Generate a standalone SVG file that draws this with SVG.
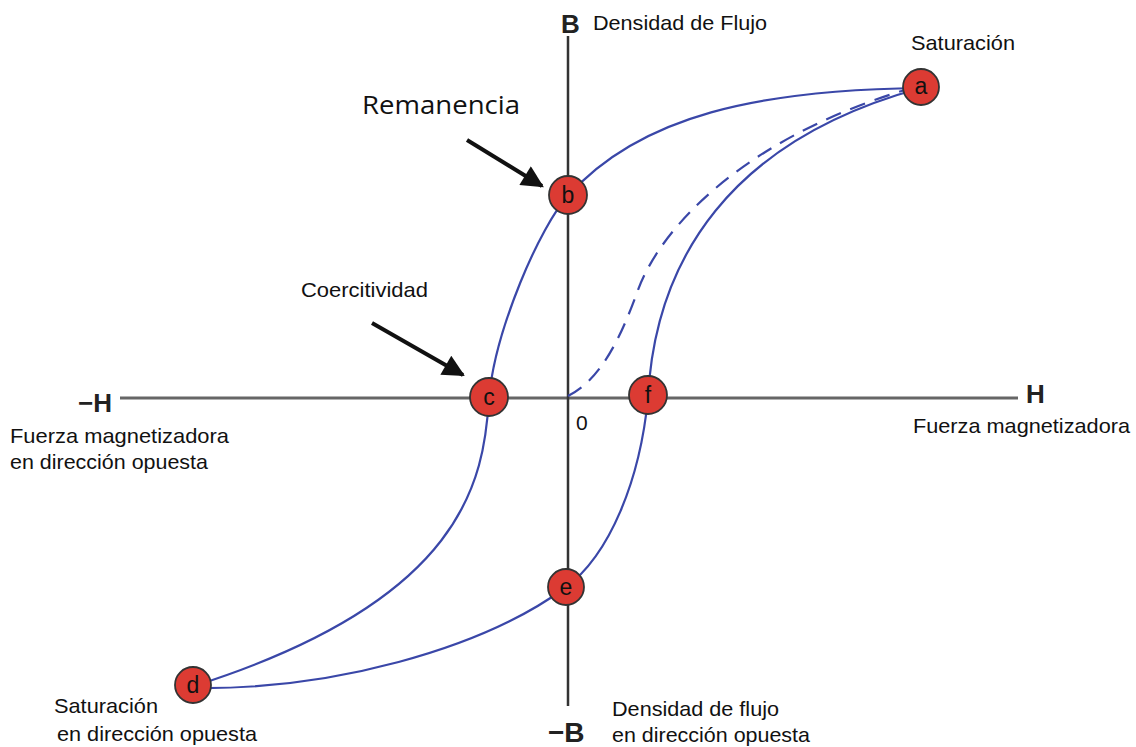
<svg xmlns="http://www.w3.org/2000/svg" width="1136" height="747" viewBox="0 0 1136 747">
<style>
.lbl{font-family:"Liberation Sans",Arial,sans-serif;font-size:21px;fill:#111}
.ax{font-family:"Liberation Sans",Arial,sans-serif;font-weight:bold;fill:#222}
.curve{fill:none;stroke:#3a47a8;stroke-width:2.2}
.node circle{fill:#dc3b33;stroke:#333;stroke-width:1.8}
.node text{font-family:"Liberation Sans",Arial,sans-serif;font-size:23px;fill:#111;text-anchor:middle}
</style>
<defs>
<marker id="ah" viewBox="0 0 10 10" refX="9" refY="5" markerWidth="7" markerHeight="5.5" orient="auto" markerUnits="strokeWidth">
<path d="M0,0 L10,5 L0,10 z" fill="#111"/>
</marker>
</defs>
<rect width="1136" height="747" fill="#fff"/>
<g id="axes">
<line x1="120" y1="398" x2="1018" y2="398" stroke="#666" stroke-width="3"/>
<line x1="568" y1="36" x2="568" y2="706" stroke="#333" stroke-width="2.5"/>
<text class="ax" x="561" y="33" font-size="26">B</text>
<text class="ax" x="548" y="742" font-size="28">−B</text>
<text class="ax" x="78" y="412" font-size="26">−H</text>
<text class="ax" x="1026" y="403" font-size="26">H</text>
<text class="lbl" x="576" y="430">0</text>
</g>
<g id="connectors">
<path class="curve" d="M921,88 C760,90 640,115 568,196 C540,226 495,330 489,398 C484,480 465,600 194,686"/>
<path class="curve" d="M194,688 C330,690 480,650 565,588 C610,555 640,480 648,398 C655,260 730,140 921,88"/>
<path class="curve" stroke-dasharray="16,10" d="M568,396 C600,380 620,340 638,290 C660,230 740,140 905,90"/>
<line x1="467" y1="140" x2="542" y2="186" stroke="#111" stroke-width="4" marker-end="url(#ah)"/>
<line x1="372" y1="323" x2="463" y2="375" stroke="#111" stroke-width="4" marker-end="url(#ah)"/>
</g>
<g id="node-a" class="node"><circle cx="921" cy="87" r="18"/><text x="921" y="94">a</text></g>
<g id="node-b" class="node"><circle cx="568" cy="195" r="19"/><text x="568" y="203">b</text></g>
<g id="node-c" class="node"><circle cx="489" cy="397" r="19"/><text x="489" y="405">c</text></g>
<g id="node-d" class="node"><circle cx="193" cy="685" r="18"/><text x="193" y="693">d</text></g>
<g id="node-e" class="node"><circle cx="566" cy="587" r="18"/><text x="566" y="595">e</text></g>
<g id="node-f" class="node"><circle cx="648" cy="395" r="19"/><text x="648" y="403">f</text></g>
<g id="labels">
<text class="lbl" x="593" y="30" textLength="174" lengthAdjust="spacingAndGlyphs">Densidad de Flujo</text>
<text class="lbl" x="911" y="50" textLength="104" lengthAdjust="spacingAndGlyphs">Saturación</text>
<text x="362" y="114" font-family="'Open Sans',sans-serif" font-size="25" fill="#111" textLength="158" lengthAdjust="spacingAndGlyphs">Remanencia</text>
<text class="lbl" x="301" y="297" textLength="127" lengthAdjust="spacingAndGlyphs">Coercitividad</text>
<text class="lbl" x="10" y="443" textLength="219" lengthAdjust="spacingAndGlyphs">Fuerza magnetizadora</text>
<text class="lbl" x="10" y="469" textLength="198" lengthAdjust="spacingAndGlyphs">en dirección opuesta</text>
<text class="lbl" x="913" y="433" textLength="217" lengthAdjust="spacingAndGlyphs">Fuerza magnetizadora</text>
<text class="lbl" x="54" y="713" textLength="104" lengthAdjust="spacingAndGlyphs">Saturación</text>
<text class="lbl" x="57" y="741" textLength="200" lengthAdjust="spacingAndGlyphs">en dirección opuesta</text>
<text class="lbl" x="612" y="716" textLength="167" lengthAdjust="spacingAndGlyphs">Densidad de flujo</text>
<text class="lbl" x="612" y="742" textLength="198" lengthAdjust="spacingAndGlyphs">en dirección opuesta</text>
</g>
</svg>
